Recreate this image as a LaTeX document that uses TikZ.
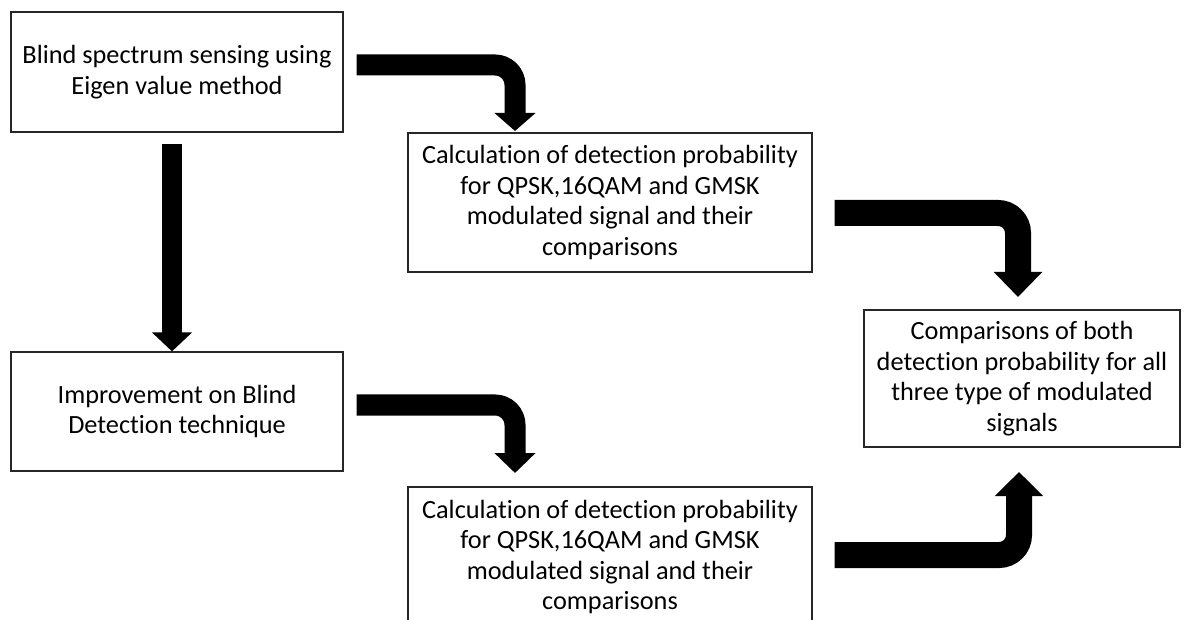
\documentclass[tikz,border=0pt]{standalone}
\usepackage{fontspec}
\setmainfont{Carlito}[Ligatures=NoCommon]
\usetikzlibrary{arrows.meta}
\begin{document}
\begin{tikzpicture}[x=1pt,y=1pt,
  box/.style={draw=black!85, line width=1.2pt, fill=white, align=center, inner sep=0pt,
    font=\fontsize{26.3}{30.5}\selectfont, text=black},
  blockarrow/.style={line width=#1, rounded corners=20pt, draw=black},
]
\clip (0,0) rectangle (1192,-620);
\useasboundingbox (0,0) rectangle (1192,-620);

\node[box, minimum width=332pt, minimum height=120pt] (A) at (177,-72)
  {Blind spectrum sensing using\\Eigen value method};
\node[box, minimum width=404pt, minimum height=139pt] (B) at (610,-202.5)
  {Calculation of detection probability\\for QPSK,16QAM and GMSK\\modulated signal and their\\comparisons};
\node[box, minimum width=332pt, minimum height=119pt] (C) at (177,-411.5)
  {Improvement on Blind\\Detection technique};
\node[box, minimum width=404pt, minimum height=140pt] (D) at (610,-557)
  {Calculation of detection probability\\for QPSK,16QAM and GMSK\\modulated signal and their\\comparisons};
\node[box, minimum width=316pt, minimum height=137pt] (E) at (1022,-378.5)
  {Comparisons of both\\detection probability for all\\three type of modulated\\signals};

% arrow A -> B
\coordinate (a1s) at ([xshift=13pt]A.east |- 0,-65);
\coordinate (a1e) at (515,-131);
\draw[blockarrow=21pt, -{Triangle[width=40pt,length=18pt]}] (a1s) -| (a1e);

% arrow A -> C
\coordinate (a4s) at (172,-144);
\draw[line width=20pt, -{Triangle[width=39pt,length=19pt]}] (a4s) -- (a4s |- C.north);

% arrow C -> D
\coordinate (a5s) at ([xshift=13pt]C.east |- 0,-405);
\coordinate (a5e) at (515,-473);
\draw[blockarrow=21pt, -{Triangle[width=40pt,length=20pt]}] (a5s) -| (a5e);

% arrow B -> E
\coordinate (a2s) at ([xshift=22pt]B.east |- 0,-213);
\coordinate (a2e) at (1018,-297);
\draw[blockarrow=26pt, -{Triangle[width=47pt,length=25pt]}] (a2s) -| (a2e);

% arrow D -> E
\coordinate (a3s) at ([xshift=22pt]D.east |- 0,-555);
\coordinate (a3e) at (1019,-472);
\draw[blockarrow=26pt, -{Triangle[width=47pt,length=24pt]}] (a3s) -| (a3e);
\end{tikzpicture}
\end{document}
